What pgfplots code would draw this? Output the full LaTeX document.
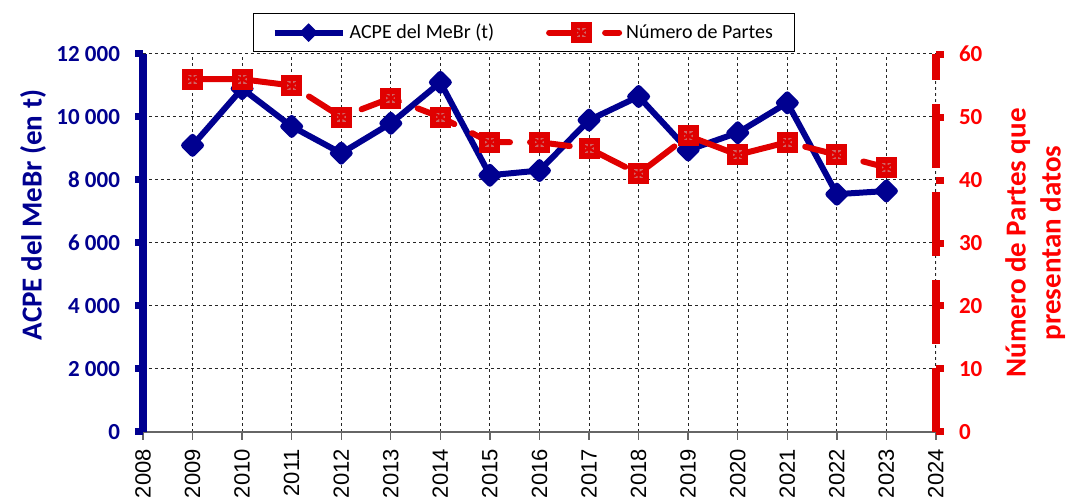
\documentclass[border=0pt]{standalone}
\usepackage{fontspec}
\setmainfont{Carlito}
\newfontfamily\arialf{Liberation Sans}
\usepackage{pgfplots}
\pgfplotsset{compat=1.18}
\usepackage{pgfplotstable}
\definecolor{navy}{HTML}{000090}
\definecolor{linered}{HTML}{E00000}
\definecolor{txtred}{HTML}{FF0000}
\definecolor{markfill}{HTML}{D26464}

\pgfplotsset{
  bluelegend/.style={legend image code/.code={%
    \draw[navy, line width=3pt] (0pt,0pt) -- (34pt,0pt);
    \draw[navy, mark=square*, mark size=3pt, mark options={rotate=45, solid, fill=navy}]
      plot coordinates {(17pt,0pt)};}},
  redlegend/.style={legend image code/.code={%
    \draw[linered, line width=3pt, line cap=round, dash pattern=on 16pt off 12pt]
      (0pt,0pt) -- (35pt,0pt);
    \draw[mark=square*, mark size=3.75pt, mark options={solid, draw=none, fill=markfill}]
      plot coordinates {(16pt,0pt)};
    \draw[mark=asterisk, mark size=3.2pt, mark options={linered, line width=1.1pt, solid}]
      plot coordinates {(16pt,0pt)};}},
}

\pgfplotstableread{
year acpe partes
2009 9100 56
2010 10900 56
2011 9700 55
2012 8850 50
2013 9800 53
2014 11100 50
2015 8150 46
2016 8300 46
2017 9900 45
2018 10650 41
2019 8950 47
2020 9500 44
2021 10450 46
2022 7550 44
2023 7650 42
}\datatable

\begin{document}
\begin{tikzpicture}
  % left axis: ACPE
  \begin{axis}[
    width=396.5pt, height=189pt, scale only axis,
    xmin=2008, xmax=2024, ymin=0, ymax=12000,
    scaled y ticks=false,
    axis x line*=bottom, axis y line*=left,
    x axis line style={black!60, line width=0.7pt},
    y axis line style={navy, line width=4pt},
    xtick={2008,...,2024},
    xticklabels={2008,2009,2010,2011,2012,2013,2014,2015,2016,2017,2018,2019,2020,2021,2022,2023,2024},
    ytick={0,2000,...,12000},
    yticklabels={0,2 000,4 000,6 000,8 000,10 000,12 000},
    tick align=outside,
    major tick length=4pt,
    xtick style={black!60, line width=0.7pt},
    ytick style={navy, line width=3.5pt},
    xticklabel shift=1pt,
    yticklabel shift=4pt,
    xticklabel style={rotate=90, anchor=east, font=\arialf\fontsize{11}{11}\selectfont, text=black},
    yticklabel style={font=\bfseries\fontsize{11.5}{12}\selectfont, text=navy},
    grid=major,
    grid style={black!85, line width=0.5pt, dash pattern=on 1.5pt off 1.5pt},
    ylabel={ACPE del MeBr (en t)},
    ylabel style={at={(axis description cs:-0.1387,0.574)}, anchor=center,
      font=\bfseries\fontsize{14.5}{17}\selectfont, text=navy},
  ]
    \draw[black!60, line width=0.5pt, dash pattern=on 1.5pt off 1.5pt]
      (rel axis cs:1,0) -- (rel axis cs:1,1);
    \addplot[navy, line width=3pt, line join=round, mark=square*, mark size=3pt,
      mark options={rotate=45, solid, fill=navy}]
      table[x=year, y=acpe] {\datatable};
  \end{axis}

  % right axis: Numero de Partes
  \begin{axis}[
    width=396.5pt, height=189pt, scale only axis,
    xmin=2008, xmax=2024, ymin=0, ymax=60,
    axis x line=none, axis y line*=right,
    y axis line style={linered, line width=4pt, dash pattern=on 32pt off 12pt},
    ytick={0,10,...,60},
    yticklabels={\textbf{0},\textbf{10},\textbf{20},\textbf{30},\textbf{40},\textbf{50},\textbf{60}},
    tick align=outside, major tick length=4pt,
    ytick style={linered, line width=3.5pt, solid},
    yticklabel shift=4pt,
    yticklabel style={font=\bfseries\fontsize{11.5}{12}\selectfont, text=txtred},
    ylabel={Número de Partes que\\presentan datos},
    ylabel style={align=center, at={(axis description cs:1.125,0.5)}, anchor=center,
      font=\bfseries\fontsize{14.5}{17.5}\selectfont, text=txtred},
    legend columns=2,
    legend cell align=left,
    legend style={at={(axis description cs:0.1387,1.0053)}, anchor=south west,
      draw=black, line width=0.6pt, font=\fontsize{10}{12}\selectfont,
      inner xsep=9pt, inner ysep=3pt,
      /tikz/every even column/.append style={column sep=24pt}},
  ]
    \addlegendimage{bluelegend}
    \addlegendentry{ACPE del MeBr (t)}
    \addplot[linered, line width=3pt, line cap=round, dash pattern=on 20pt off 10pt,
      mark=square*, mark size=3.75pt,
      mark options={solid, draw=none, fill=markfill}, redlegend]
      table[x=year, y=partes] {\datatable};
    \addlegendentry{Número de Partes}
    \addplot[forget plot, only marks, mark=asterisk, mark size=3.2pt,
      mark options={linered, line width=1.1pt, solid}]
      table[x=year, y=partes] {\datatable};
  \end{axis}
  \pgfresetboundingbox
  \path[use as bounding box] (-71.5pt,-35pt) rectangle (464.5pt,216pt);
\end{tikzpicture}
\end{document}
